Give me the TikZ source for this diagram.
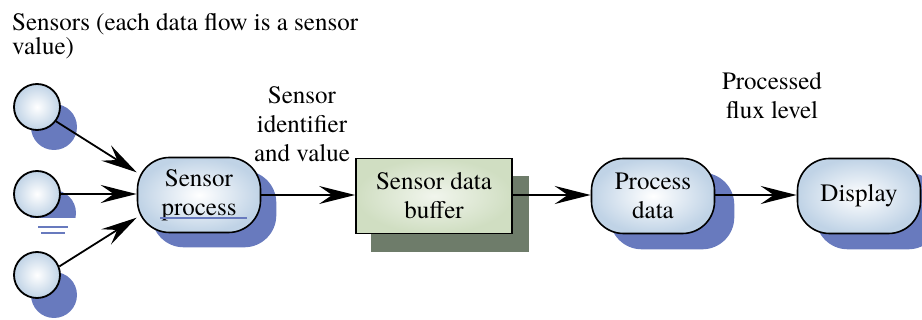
\documentclass[tikz,border=0pt]{standalone}
\usepackage{fontspec}
\IfFontExistsTF{texgyretermes-regular.otf}
  {\setmainfont{texgyretermes}[Extension=.otf, UprightFont=*-regular, BoldFont=*-bold, ItalicFont=*-italic, BoldItalicFont=*-bolditalic]\def\fsz{25}}
  {\setmainfont{Latin Modern Roman}\def\fsz{23}}
\usetikzlibrary{arrows.meta,backgrounds}
\definecolor{shblue}{RGB}{104,122,190}
\definecolor{nodeblue}{RGB}{192,211,230}
\definecolor{bufgreen}{RGB}{208,222,194}
\definecolor{bufshadow}{RGB}{110,124,106}
\begin{document}
\begin{tikzpicture}[x=1pt,y=-1pt,
  txt/.style={font=\fontsize{\fsz}{29}\selectfont, align=center},
  proc/.style={draw, line width=1.6pt, rounded corners=32pt, inner color=white, outer color=nodeblue,
    minimum width=123pt, minimum height=75pt, inner sep=0pt, txt},
  sensor/.style={circle, draw, line width=1.8pt, inner color=white, outer color=nodeblue,
    minimum size=46pt, inner sep=0pt},
  store/.style={draw, line width=1.8pt, inner color=white!70!bufgreen, outer color=bufgreen,
    minimum width=156pt, minimum height=75pt, inner sep=0pt, txt},
  flow/.style={line width=1.8pt, -{Stealth[length=36pt,width=18pt,inset=13pt]}},
  shadowfill/.style={fill=shblue}]
\useasboundingbox (0,0) rectangle (922,320);

% header text
\node[anchor=west, align=left, inner sep=0pt, font=\fontsize{\fsz}{24}\selectfont] (hdr) at (12,36)
  {Sensors (each data flow is a sensor\\value)};

% sensors
\node[sensor] (s1) at (37,107) {};
\node[sensor] (s2) at (37,194) {};
\node[sensor] (s3) at (37,275) {};

% processes and store
\node[proc] (sp) at (199,195) {Sensor\\process};
\node[store] (buf) at (434,196) {Sensor data\\buffer};
\node[proc] (pd) at (653,196) {Process\\data};
\node[proc] (disp) at (859,196) {Display};

% labels
\node[txt, inner sep=0pt] (lab1) at (302,124) {Sensor\\identifier\\and value};
\node[txt, inner sep=0pt] (lab2) at (772,96) {Processed\\flux level};

% underline artefact on sensor process
\draw[shblue, line width=2.5pt] (160,218) -- (247,218);

% shadows
\begin{scope}[on background layer]
  \fill[shadowfill] ([shift={(17,20)}]s1.center) circle (23pt);
  \begin{scope}
    \clip (0,150) rectangle (100,218);
    \fill[shadowfill] ([shift={(16,19)}]s2.center) circle (23pt);
  \end{scope}
  \draw[shblue, line width=2pt] (38,227) -- (68,227);
  \draw[shblue, line width=2pt] (41,233) -- (65,233);
  \fill[shadowfill] ([shift={(17,20)}]s3.center) circle (23pt);
  \fill[shadowfill, rounded corners=32pt] ([shift={(15,14)}]sp.south west) rectangle ([shift={(15,14)}]sp.north east);
  \fill[bufshadow] ([shift={(16,18)}]buf.south west) rectangle ([shift={(16,18)}]buf.north east);
  \fill[shadowfill, rounded corners=32pt] ([shift={(19,15)}]pd.south west) rectangle ([shift={(19,15)}]pd.north east);
  \fill[shadowfill, rounded corners=32pt] ([shift={(19,15)}]disp.south west) rectangle ([shift={(19,15)}]disp.north east);
\end{scope}

% flows
\draw[flow] (s1.-37) -- (sp.160);
\draw[flow] (s2.east) -- (s2.east -| sp.west);
\draw[flow] (s3.21) -- (sp.200);
\draw[flow] (sp.east) -- (buf.west |- sp.east);
\draw[flow] (buf.east |- sp.east) -- (pd.west |- sp.east);
\draw[flow] (pd.east |- sp.east) -- (disp.west |- sp.east);
\end{tikzpicture}
\end{document}
